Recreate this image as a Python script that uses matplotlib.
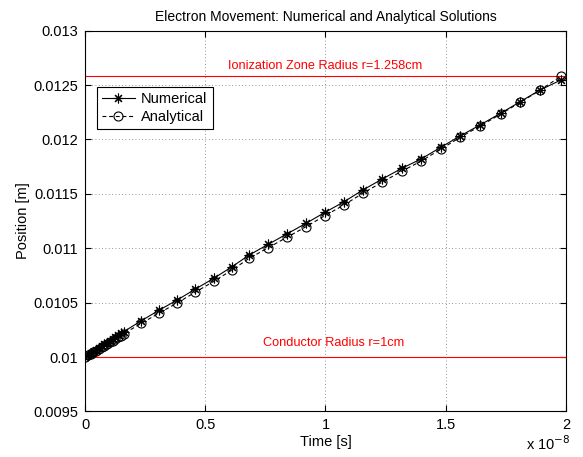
import numpy as np
import matplotlib
matplotlib.use("Agg")
import matplotlib.pyplot as plt
from matplotlib.ticker import FuncFormatter

plt.rcParams['font.family'] = ['Liberation Sans', 'DejaVu Sans']

# Time samples (in units of 1e-8 s)
time_e8 = [0.0, 0.0115, 0.023, 0.0345, 0.046, 0.0575, 0.069, 0.0805, 0.092,
           0.1035, 0.115, 0.1265, 0.138, 0.1495, 0.161,
           0.234, 0.309, 0.383, 0.459, 0.535, 0.611, 0.683, 0.762, 0.839,
           0.919, 0.998, 1.077, 1.155, 1.236, 1.317, 1.397, 1.479, 1.559,
           1.642, 1.728, 1.809, 1.892, 1.978]

# Electron position [m]
numerical = [0.010000, 0.010017, 0.010033, 0.010050, 0.010067, 0.010083,
             0.010100, 0.010117, 0.010133, 0.010150, 0.010167, 0.010183,
             0.010200, 0.010217, 0.010233,
             0.010334, 0.010432, 0.010524, 0.010625, 0.010723, 0.010830,
             0.010938, 0.011036, 0.011131, 0.011229, 0.011330, 0.011427,
             0.011535, 0.011636, 0.011734, 0.011820, 0.011927, 0.012031,
             0.012132, 0.012240, 0.012346, 0.012454, 0.012545]

analytical = [0.010000, 0.010015, 0.010030, 0.010045, 0.010060, 0.010075,
              0.010090, 0.010105, 0.010120, 0.010135, 0.010150, 0.010165,
              0.010180, 0.010195, 0.010215,
              0.010310, 0.010405, 0.010497, 0.010597, 0.010695, 0.010800,
              0.010908, 0.011005, 0.011100, 0.011198, 0.011300, 0.011398,
              0.011505, 0.011608, 0.011708, 0.011800, 0.011910, 0.012018,
              0.012122, 0.012232, 0.012340, 0.012452, 0.012580]

conductor_radius = 0.01
ionization_radius = 0.01258

x_ticks = [0, 0.5, 1, 1.5, 2]
y_ticks = [0.0095, 0.01, 0.0105, 0.011, 0.0115, 0.012, 0.0125, 0.013]

t = np.array(time_e8) * 1e-8

fig = plt.figure(figsize=(5.83, 4.57), dpi=100)
ax = fig.add_axes([0.1458, 0.0996, 0.825, 0.8334])

ax.axhline(conductor_radius, color='red', lw=0.8)
ax.axhline(ionization_radius, color='red', lw=0.8)

asterisk = (8, 2, 0)
ax.plot(t, numerical, '-', color='k', lw=0.8, marker=asterisk, ms=7,
        mfc='k', mec='k', mew=0.8, label='Numerical')
ax.plot(t, analytical, '--', color='k', lw=0.8, marker='o', ms=6.5,
        mfc='none', mec='k', mew=0.8, dashes=(3.5, 2.5), label='Analytical')

ax.text(1.0e-8, 0.012675, 'Ionization Zone Radius r=1.258cm', color='red',
        ha='center', va='center', fontsize=9.2)
ax.text(1.035e-8, 0.010125, 'Conductor Radius r=1cm', color='red',
        ha='center', va='center', fontsize=9.2)

ax.set_xlim(0, 2e-8)
ax.set_ylim(0.0095, 0.013)
ax.set_xticks([v * 1e-8 for v in x_ticks])
ax.set_xticklabels([f'{v:g}' for v in x_ticks])
ax.set_yticks(y_ticks)
ax.yaxis.set_major_formatter(FuncFormatter(lambda v, p: f'{v:g}'))

ax.tick_params(direction='in', top=True, right=True, length=4, width=0.8,
               labelsize=10.5, pad=5)
for s in ax.spines.values():
    s.set_linewidth(0.8)

ax.grid(True, color='0.45', linestyle=(0, (1, 3)), linewidth=0.6)

ax.set_title('Electron Movement: Numerical and Analytical Solutions',
             fontsize=10, pad=7)
ax.set_xlabel('Time [s]', fontsize=10.5, labelpad=2)
ax.set_ylabel('Position [m]', fontsize=10.5, labelpad=2)

fig.text(548 / 583, 1 - 444 / 457, r'x 10$^{-8}$', ha='center', va='center',
         fontsize=10.5)

leg = ax.legend(loc='upper left', bbox_to_anchor=(0.024, 0.852),
                fontsize=10.5, frameon=True, fancybox=False, framealpha=1,
                edgecolor='k', handlelength=2.3, borderpad=0.35,
                labelspacing=0.25, handletextpad=0.4, borderaxespad=0)
leg.get_frame().set_linewidth(0.8)

fig.savefig('out.png', dpi=100)
